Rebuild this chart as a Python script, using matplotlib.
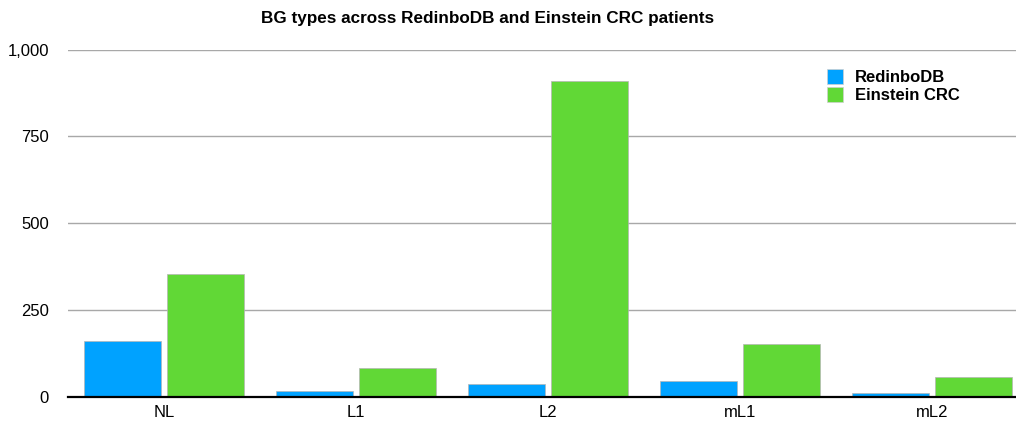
import matplotlib
matplotlib.use("Agg")
import matplotlib.pyplot as plt
from matplotlib.patches import Patch
from matplotlib.ticker import FuncFormatter

plt.rcParams['font.family'] = ['Liberation Sans', 'DejaVu Sans']

# Counts of BG types per cohort
categories = ["NL", "L1", "L2", "mL1", "mL2"]
redinbo_db = [160, 16, 37, 46, 11]
einstein_crc = [354, 82, 911, 152, 56]
series_names = ["RedinboDB", "Einstein CRC"]
y_ticks = [0, 250, 500, 750, 1000]

BLUE = "#00A2FF"
GREEN = "#61D836"

W, H = 1016, 422
fig = plt.figure(figsize=(W / 100, H / 100), dpi=100)
# plot area (pixel geometry), right side runs past the canvas edge
left, right = 68, 1028
bottom, top = H - 396.7, H - 49.7
ax = fig.add_axes([left / W, bottom / H, (right - left) / W, (top - bottom) / H])

x = list(range(len(categories)))
bw = 0.40
off = 0.218
ax.bar([i - off for i in x], redinbo_db, width=bw, color=BLUE,
       edgecolor="#b5b5b5", linewidth=0.5, zorder=3)
ax.bar([i + off for i in x], einstein_crc, width=bw, color=GREEN,
       edgecolor="#b5b5b5", linewidth=0.5, zorder=3)

ax.set_xlim(-0.5, len(categories) - 0.5)
ax.set_ylim(0, 1000)
ax.set_yticks(y_ticks)
ax.yaxis.set_major_formatter(FuncFormatter(lambda v, p: f"{int(v):,}"))
ax.set_xticks(x)
ax.set_xticklabels(categories)
ax.tick_params(axis="both", length=0, labelsize=12, colors="black")
ax.tick_params(axis="y", pad=13.7)
ax.tick_params(axis="x", pad=6)

ax.grid(axis="y", color="#a8a8a8", linewidth=1.0, zorder=0)
ax.set_axisbelow(True)
for s in ["left", "right", "top"]:
    ax.spines[s].set_visible(False)
ax.spines["bottom"].set_color("black")
ax.spines["bottom"].set_linewidth(1.6)
ax.spines["bottom"].set_zorder(4)

fig.text(487.5 / W, 1 - 18 / H, "BG types across RedinboDB and Einstein CRC patients",
         ha="center", va="center", fontsize=12.3, fontweight="bold")

handles = [Patch(facecolor=BLUE, edgecolor="#cfcfcf", linewidth=0.5),
           Patch(facecolor=GREEN, edgecolor="#cfcfcf", linewidth=0.5)]
leg = fig.legend(handles, series_names, loc="upper left",
                 bbox_to_anchor=(815 / W, 1 - 57 / H), frameon=False,
                 prop={"weight": "bold", "size": 12},
                 handlelength=1.0, handleheight=1.0, handletextpad=0.7,
                 labelspacing=0.15, borderpad=0.2)

fig.savefig("out.png", dpi=100)
